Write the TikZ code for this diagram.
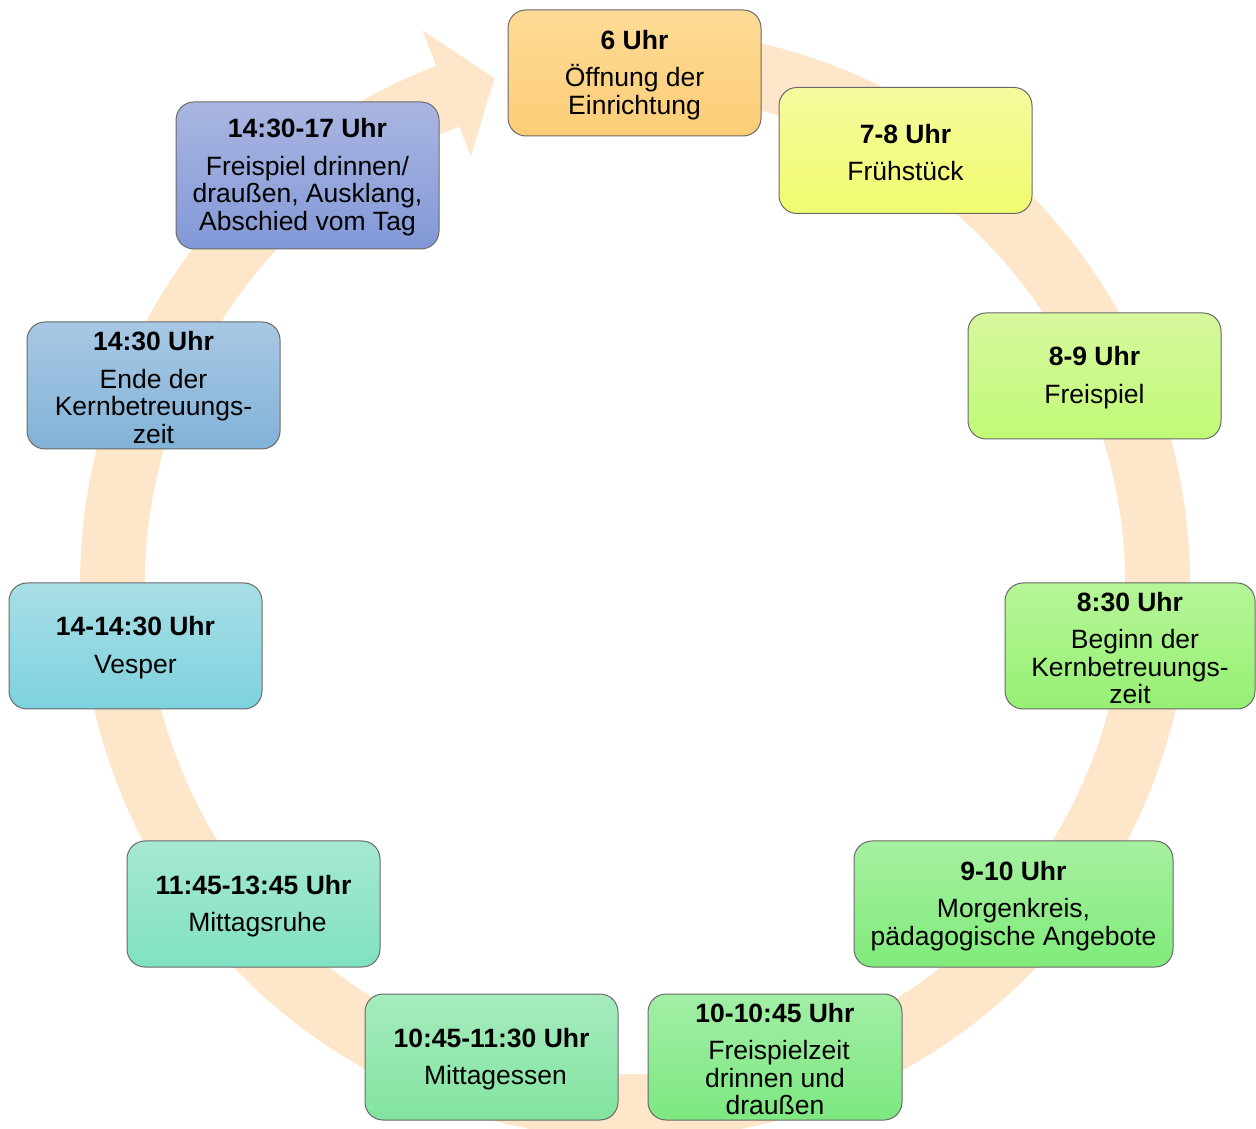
\documentclass[tikz,border=0pt]{standalone}
\usepackage{fontspec}
\setmainfont{Liberation Sans}

% ring colour and box outline
\definecolor{ringfill}{RGB}{254,230,202}
\definecolor{boxline}{RGB}{105,105,105}

% box gradients (top / bottom)
\definecolor{cAt}{RGB}{254,219,150}\definecolor{cAb}{RGB}{252,205,118}
\definecolor{cBt}{RGB}{245,250,158}\definecolor{cBb}{RGB}{240,252,110}
\definecolor{cCt}{RGB}{215,248,158}\definecolor{cCb}{RGB}{192,250,118}
\definecolor{cDt}{RGB}{182,245,152}\definecolor{cDb}{RGB}{150,240,115}
\definecolor{cEt}{RGB}{166,240,160}\definecolor{cEb}{RGB}{128,235,122}
\definecolor{cFt}{RGB}{162,238,166}\definecolor{cFb}{RGB}{125,232,128}
\definecolor{cGt}{RGB}{166,235,190}\definecolor{cGb}{RGB}{130,228,160}
\definecolor{cHt}{RGB}{166,232,210}\definecolor{cHb}{RGB}{128,225,195}
\definecolor{cIt}{RGB}{168,222,230}\definecolor{cIb}{RGB}{125,210,222}
\definecolor{cJt}{RGB}{168,200,228}\definecolor{cJb}{RGB}{130,178,215}
\definecolor{cKt}{RGB}{170,182,225}\definecolor{cKb}{RGB}{130,152,215}

% bold time line heading each box
\newcommand\stagehead[1]{\rule{0pt}{23pt}\textbf{#1}\\[10pt]}
% indented line (leading blank)
\newcommand\ind{\hspace*{8pt}}

\begin{document}
\begin{tikzpicture}[x=1pt,y=1pt,
  stage/.style={draw=boxline, line width=1pt, rounded corners=18pt,
    minimum width=253pt, minimum height=126pt, inner sep=0pt,
    align=center, font=\fontsize{26.5}{27.5}\selectfont},
  shade2/.style 2 args={top color=#1, bottom color=#2}
]
\useasboundingbox (0,0) rectangle (1256,1128);

% circular arrow running clockwise behind the boxes
\begin{scope}[shift={(635,544)}]
  \fill[ringfill] (85:555) arc[start angle=85, end angle=-249, radius=555]
    -- (-249:490) arc[start angle=-249, end angle=85, radius=490] -- cycle;
  \fill[ringfill] (111:593) -- (105.53:524.9) -- (111:458) -- cycle;
\end{scope}

% schedule boxes
\node[stage, shade2={cAt}{cAb}] (s06) at (634.5,1055)
  {\stagehead{6 Uhr}Öffnung der\\Einrichtung};
\node[stage, shade2={cBt}{cBb}] (s07) at (905.5,977.5)
  {\stagehead{7-8 Uhr}Frühstück};
\node[stage, shade2={cCt}{cCb}] (s08) at (1094.5,752)
  {\stagehead{8-9 Uhr}Freispiel};
\node[stage, shade2={cDt}{cDb}, minimum width=250pt] (s0830) at (1130,482)
  {\stagehead{8:30 Uhr}\hspace*{10pt}Beginn der\\Kernbetreuungs-\\zeit};
\node[stage, shade2={cEt}{cEb}, minimum width=319pt] (s09) at (1013.5,224)
  {\stagehead{9-10 Uhr}Morgenkreis,\\pädagogische Angebote};
\node[stage, shade2={cFt}{cFb}, minimum width=254pt] (s10) at (775,71)
  {\stagehead{10-10:45 Uhr}\ind Freispielzeit\\drinnen und\\draußen};
\node[stage, shade2={cGt}{cGb}] (s1045) at (491.5,71)
  {\stagehead{10:45-11:30 Uhr}\ind Mittagessen};
\node[stage, shade2={cHt}{cHb}] (s1145) at (253.5,224)
  {\stagehead{11:45-13:45 Uhr}\ind Mittagsruhe};
\node[stage, shade2={cIt}{cIb}] (s14) at (135.5,482)
  {\stagehead{14-14:30 Uhr}Vesper};
\node[stage, shade2={cJt}{cJb}, minimum height=127pt] (s1430) at (153.5,742.5)
  {\stagehead{14:30 Uhr}Ende der\\Kernbetreuungs-\\zeit};
\node[stage, shade2={cKt}{cKb}, minimum width=263pt, minimum height=147pt] (s1430b) at (307.5,952.5)
  {\stagehead{14:30-17 Uhr}Freispiel drinnen/\\draußen, Ausklang,\\Abschied vom Tag};
\end{tikzpicture}
\end{document}
